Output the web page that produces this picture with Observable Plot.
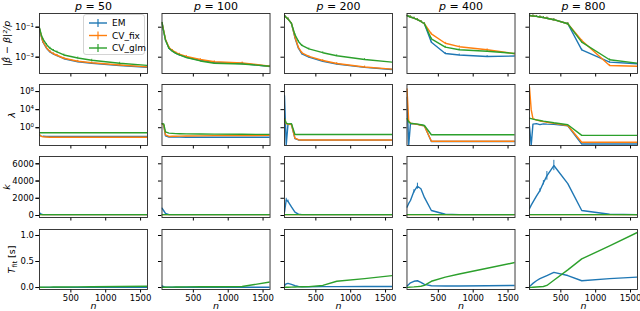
<!DOCTYPE html>
<html><head><meta charset="utf-8">
<script src="https://cdn.jsdelivr.net/npm/d3@7"></script>
<script src="https://cdn.jsdelivr.net/npm/@observablehq/plot@0.6"></script>
<style>
body{margin:0;background:#fff;}
#chart{position:relative;width:640px;height:311px;overflow:hidden;font-family:"DejaVu Sans",sans-serif;}
#chart svg{display:block;}
#legend{position:absolute;left:83px;top:14px;width:62px;height:41px;border:1px solid #d4d4d4;border-radius:3px;background:rgba(255,255,255,0.85);box-sizing:border-box;}
</style></head><body><div id="chart"></div>
<script>
const pValues = [50, 100, 200, 400, 800];
const nValues = [50, 75, 100, 150, 200, 250, 300, 400, 600, 800, 1200, 1600];
const nTicks = [500, 1000, 1500];
const methods = ["EM", "CV_fix", "CV_glm"];
const colors = ["#1f77b4", "#ff7f0e", "#2ca02c"];

// Row 1: log10 of |beta_hat - beta|^2 / p   (one list per p)
const errLog10_EM = [
  [-1.1, -1.6, -2.0, -2.4, -2.65, -2.8, -2.9, -3.1, -3.3, -3.4, -3.55, -3.67],
  [-0.7, -1.3, -1.85, -2.4, -2.6, -2.75, -2.85, -3.0, -3.2, -3.35, -3.42, -3.62],
  [-0.22, -0.35, -0.45, -0.75, -1.7, -2.4, -2.78, -3.0, -3.27, -3.45, -3.68, -3.82],
  [-0.22, -0.27, -0.32, -0.4, -0.5, -0.62, -0.77, -2.0, -2.75, -2.85, -2.95, -2.92],
  [-0.22, -0.24, -0.25, -0.28, -0.32, -0.36, -0.4, -0.5, -0.77, -2.51, -3.33, -3.44]
];
const errLog10_CVfix = [
  [-1.1, -1.58, -1.97, -2.37, -2.62, -2.77, -2.87, -3.07, -3.27, -3.37, -3.52, -3.65],
  [-0.7, -1.25, -1.8, -2.35, -2.55, -2.7, -2.8, -2.95, -3.15, -3.3, -3.38, -3.6],
  [-0.22, -0.35, -0.45, -0.75, -1.65, -2.35, -2.72, -2.95, -3.22, -3.42, -3.65, -3.8],
  [-0.22, -0.27, -0.32, -0.4, -0.5, -0.62, -0.77, -1.45, -2.07, -2.3, -2.5, -2.77],
  [-0.22, -0.24, -0.25, -0.28, -0.32, -0.36, -0.4, -0.5, -0.77, -1.89, -3.55, -3.6]
];
const errLog10_CVglm = [
  [-1.05, -1.5, -1.8, -2.15, -2.4, -2.55, -2.65, -2.85, -3.05, -3.2, -3.4, -3.55],
  [-0.68, -1.3, -1.85, -2.4, -2.6, -2.75, -2.85, -3.02, -3.25, -3.4, -3.45, -3.6],
  [-0.22, -0.35, -0.45, -0.75, -1.5, -1.95, -2.22, -2.45, -2.7, -2.9, -3.15, -3.33],
  [-0.22, -0.27, -0.32, -0.4, -0.5, -0.62, -0.77, -1.78, -2.33, -2.5, -2.6, -2.75],
  [-0.22, -0.24, -0.25, -0.28, -0.32, -0.36, -0.4, -0.5, -0.77, -2.0, -3.17, -3.4]
];

// Row 2: log10 of lambda
const lamLog10_EM = [
  [-1.6, -1.85, -1.9, -1.93, -1.93, -1.93, -1.93, -1.93, -1.93, -1.93, -1.93, -1.93],
  [0.9, 0.6, -1.8, -2.05, -2.05, -2.08, -2.08, -2.1, -2.1, -2.1, -2.1, -2.1],
  [7.1, -3.8, 0.75, 0.8, -2.4, -2.7, -2.75, -2.75, -2.75, -2.75, -2.75, -2.75],
  [6.7, -3.9, 0.9, 0.85, 0.75, 0.6, 0.45, -3.05, -3.05, -3.05, -3.05, -3.05],
  [0.3, -3.9, 0.8, 0.9, 0.7, 0.85, 0.8, 0.75, 0.4, -3.6, -3.6, -3.6]
];
const lamLog10_CVfix = [
  [-1.55, -1.9, -2.0, -2.05, -2.1, -2.1, -2.1, -2.1, -2.1, -2.1, -2.1, -2.1],
  [0.9, 0.6, -1.6, -1.93, -1.9, -1.88, -1.85, -1.83, -1.8, -1.75, -1.72, -1.7],
  [2.0, 0.9, 0.75, 0.7, -2.3, -2.65, -2.7, -2.7, -2.7, -2.7, -2.7, -2.7],
  [8.6, 1.5, 1.0, 0.85, 0.75, 0.55, 0.4, -3.0, -3.0, -3.0, -3.0, -3.0],
  [9.0, 4.0, 2.0, 1.7, 1.5, 1.35, 1.2, 0.95, 0.5, -3.2, -3.2, -3.2]
];
const lamLog10_CVglm = [
  [-1.1, -1.1, -1.1, -1.1, -1.1, -1.1, -1.1, -1.1, -1.1, -1.1, -1.1, -1.1],
  [0.9, 0.85, -0.9, -1.2, -1.25, -1.3, -1.32, -1.35, -1.4, -1.42, -1.45, -1.48],
  [2.0, 1.0, 0.85, 0.9, -1.5, -1.5, -1.5, -1.5, -1.5, -1.5, -1.5, -1.5],
  [2.0, 1.3, 1.0, 0.9, 0.8, 0.65, 0.5, -1.55, -1.55, -1.55, -1.55, -1.55],
  [2.1, 2.0, 1.9, 1.75, 1.6, 1.45, 1.35, 1.1, 0.67, -1.7, -1.7, -1.7]
];

// Row 3: k
const k_EM = [
  [330, 150, 100, 100, 100, 100, 100, 100, 100, 100, 100, 100],
  [850, 550, 250, 100, 100, 100, 100, 100, 100, 100, 100, 100],
  [400, 1800, 1650, 1000, 400, 150, 100, 100, 100, 100, 100, 100],
  [960, 1400, 1740, 2800, 3400, 3100, 2100, 580, 150, 100, 100, 100],
  [780, 1200, 1550, 2250, 2900, 3800, 4600, 5800, 3700, 580, 150, 100]
];
const kErr_EM = [
  [0, 0, 0, 0, 0, 0, 0, 0, 0, 0, 0, 0],
  [0, 0, 0, 0, 0, 0, 0, 0, 0, 0, 0, 0],
  [0, 200, 150, 0, 0, 0, 0, 0, 0, 0, 0, 0],
  [0, 0, 0, 200, 350, 0, 0, 0, 0, 0, 0, 0],
  [0, 0, 0, 0, 200, 250, 500, 600, 0, 0, 0, 0]
];
const k_CVfix = [
  [100, 100, 100, 100, 100, 100, 100, 100, 100, 100, 100, 100],
  [100, 100, 100, 100, 100, 100, 100, 100, 100, 100, 100, 100],
  [100, 100, 100, 100, 100, 100, 100, 100, 100, 100, 100, 100],
  [100, 100, 100, 100, 100, 100, 100, 100, 100, 100, 100, 100],
  [100, 100, 100, 100, 100, 100, 100, 100, 100, 100, 100, 100]
];
const k_CVglm = [
  [100, 100, 100, 100, 100, 100, 100, 100, 100, 100, 100, 100],
  [100, 100, 100, 100, 100, 100, 100, 100, 100, 100, 100, 100],
  [100, 100, 100, 100, 100, 100, 100, 100, 100, 100, 100, 100],
  [100, 100, 100, 100, 100, 100, 100, 100, 100, 100, 100, 100],
  [100, 100, 100, 100, 100, 100, 100, 100, 100, 100, 100, 100]
];

// Row 4: T_fit [s]
const t_EM = [
  [0.003, 0.003, 0.003, 0.003, 0.003, 0.003, 0.003, 0.003, 0.003, 0.003, 0.003, 0.003],
  [0.03, 0.015, 0.006, 0.004, 0.004, 0.004, 0.004, 0.004, 0.004, 0.004, 0.004, 0.004],
  [0.04, 0.07, 0.08, 0.06, 0.035, 0.02, 0.015, 0.015, 0.017, 0.018, 0.02, 0.02],
  [0.03, 0.06, 0.09, 0.12, 0.13, 0.1, 0.06, 0.035, 0.03, 0.03, 0.035, 0.04],
  [0.02, 0.05, 0.08, 0.13, 0.17, 0.2, 0.23, 0.29, 0.23, 0.13, 0.17, 0.2]
];
const t_CVglm = [
  [0.005, 0.005, 0.006, 0.007, 0.008, 0.009, 0.01, 0.011, 0.013, 0.015, 0.02, 0.025],
  [0.005, 0.005, 0.006, 0.007, 0.008, 0.009, 0.01, 0.012, 0.014, 0.016, 0.02, 0.105],
  [0.005, 0.005, 0.006, 0.008, 0.01, 0.012, 0.014, 0.018, 0.04, 0.12, 0.17, 0.23],
  [0.003, 0.005, 0.008, 0.012, 0.018, 0.025, 0.04, 0.12, 0.2, 0.26, 0.37, 0.48],
  [0.0, 0.003, 0.005, 0.01, 0.015, 0.02, 0.04, 0.14, 0.34, 0.55, 0.8, 1.06]
];

function build(series, errs, fromLog) {
  const out = [];
  methods.forEach((m, mi) => {
    const s = series[mi];
    if (!s) return;
    pValues.forEach((p, pi) => {
      s[pi].forEach((v, i) => {
        out.push({p, n: nValues[i], method: m, v: fromLog ? Math.pow(10, v) : v,
          err: errs && errs[mi] ? errs[mi][pi][i] : 0});
      });
    });
  });
  return out;
}

const row1 = build([errLog10_EM, errLog10_CVfix, errLog10_CVglm], null, true);
const row2 = build([lamLog10_EM, lamLog10_CVfix, lamLog10_CVglm], null, true);
const row3 = build([k_EM, k_CVfix, k_CVglm], [kErr_EM, null, null], false);
const row4 = build([t_EM, null, t_CVglm], null, false);

const root = document.getElementById("chart");

function makeRow(o) {
  const marks = [];
  if (o.title) marks.push(Plot.axisFx({anchor: "top", tickSize: 0, tickPadding: 4, fontSize: 11, tickFormat: d => `p = ${d}`, label: null}));
  marks.push(Plot.axisY({ticks: o.yTicks, tickFormat: o.yFormat, tickSize: 3.5, tickPadding: 2, fontSize: 8.5,
    label: o.label, labelAnchor: "center", labelOffset: o.labelOffset, labelArrow: false}));
  marks.push(Plot.axisY({ticks: o.yTicks, tickFormat: () => "", tickSize: 3.5, facetAnchor: null, label: null}));
  marks.push(Plot.axisX({ticks: nTicks, tickFormat: o.xLabels ? d => String(d) : () => "", tickSize: 3.5, tickPadding: 2, fontSize: 8.5, label: null}));
  if (o.xLabels) marks.push(Plot.text(pValues, {fx: d => d, text: () => "n", frameAnchor: "bottom", dy: 19, lineAnchor: "bottom", fontSize: 9.5, fontStyle: "italic"}));
  if (o.errMarks) marks.push(...o.errMarks);
  marks.push(Plot.line(o.data, {x: "n", y: "v", z: "method", stroke: "method", fx: "p", strokeWidth: 1.4, clip: true}));
  marks.push(Plot.frame({stroke: "#262626", strokeWidth: 0.9}));
  const svg = Plot.plot({
    width: 640, height: o.height,
    marginLeft: 39, marginRight: 3, marginTop: o.marginTop, marginBottom: o.marginBottom,
    style: {fontFamily: "DejaVu Sans, sans-serif", fontSize: "8.5px", color: "#000", background: "#fff", overflow: "visible"},
    fx: {domain: pValues, paddingInner: 0.118, paddingOuter: 0, round: false, axis: null, label: null},
    x: {domain: [50, 1600]},
    y: o.y,
    color: {domain: methods, range: colors},
    marks
  });
  root.appendChild(svg);
  return svg;
}

const s1 = makeRow({
  data: row1, title: true, height: 78, marginTop: 13, marginBottom: 5,
  y: {type: "log", domain: [Math.pow(10, -4.087), Math.pow(10, -0.087)]},
  yTicks: [1e-1, 1e-3], yFormat: d => (d > 0.01 ? "10\u207B\u00B9" : "10\u207B\u00B3"),
  label: "|\u03B2\u0302 \u2212 \u03B2|\u00B2/p", labelOffset: 36,
  errMarks: [Plot.ruleX(row1.filter(d => d.n >= 100), {x: "n", y1: d => d.v / 1.15, y2: d => d.v * 1.15, stroke: "method", fx: "p", strokeWidth: 0.9, clip: true})]
});
const s2 = makeRow({
  data: row2, height: 72, marginTop: 6, marginBottom: 5,
  y: {type: "log", domain: [Math.pow(10, -3.93), Math.pow(10, 9.56)]},
  yTicks: [1e8, 1e4, 1], yFormat: d => (d > 1e6 ? "10\u2078" : d > 10 ? "10\u2074" : "10\u2070"),
  label: "\u03BB", labelOffset: 31.5
});
const s3 = makeRow({
  data: row3, height: 73, marginTop: 6, marginBottom: 6,
  y: {domain: [-232, 6847]},
  yTicks: [0, 2000, 4000, 6000], yFormat: d => String(d),
  label: "k", labelOffset: 36.5,
  errMarks: [Plot.ruleX(row3.filter(d => d.err > 0), {x: "n", y1: d => d.v - d.err, y2: d => d.v + d.err, stroke: "method", fx: "p", strokeWidth: 1})]
});
const s4 = makeRow({
  data: row4, height: 88, marginTop: 6, marginBottom: 22, xLabels: true,
  y: {domain: [-0.038, 1.115]},
  yTicks: [0, 0.5, 1.0], yFormat: d => d.toFixed(1),
  label: "Tfit [s]", labelOffset: 31
});

// facet titles with italic p
const NS = "http://www.w3.org/2000/svg";
s1.querySelectorAll('g[aria-label="fx-axis tick label"] text').forEach(t => {
  const rest = t.textContent.replace("p", "");
  t.textContent = "";
  const a = document.createElementNS(NS, "tspan"); a.setAttribute("font-style", "italic"); a.textContent = "p";
  const b = document.createElementNS(NS, "tspan"); b.textContent = rest;
  t.appendChild(a); t.appendChild(b);
});
[s1, s2, s3].forEach(s => s.querySelectorAll('g[aria-label="y-axis label"] text').forEach(t => { t.setAttribute("font-style", "italic"); t.setAttribute("font-size", "9.5"); }));
s4.querySelectorAll('g[aria-label="y-axis label"] text').forEach(t => {
  t.textContent = "";
  t.setAttribute("font-size", "9.5");
  const a = document.createElementNS(NS, "tspan"); a.setAttribute("font-style", "italic"); a.textContent = "T";
  const b = document.createElementNS(NS, "tspan"); b.setAttribute("font-size", "6.5"); b.setAttribute("dy", "2"); b.textContent = "fit";
  const c = document.createElementNS(NS, "tspan"); c.setAttribute("dy", "-2"); c.textContent = " [s]";
  t.appendChild(a); t.appendChild(b); t.appendChild(c);
});

// legend inside the first panel
const legend = document.createElement("div");
legend.id = "legend";
let lg = `<svg width="62" height="41" style="display:block;overflow:visible">`;
methods.forEach((m, i) => {
  const y = 8 + i * 12.5;
  lg += `<line x1="5" x2="23" y1="${y}" y2="${y}" stroke="${colors[i]}" stroke-width="1.4"/>`;
  lg += `<line x1="14" x2="14" y1="${y - 4}" y2="${y + 4}" stroke="${colors[i]}" stroke-width="1.2"/>`;
  lg += `<text x="28" y="${y + 3.2}" font-family="DejaVu Sans, sans-serif" font-size="9" fill="#000">${m}</text>`;
});
lg += `</svg>`;
legend.innerHTML = lg;
root.appendChild(legend);
</script></body></html>
